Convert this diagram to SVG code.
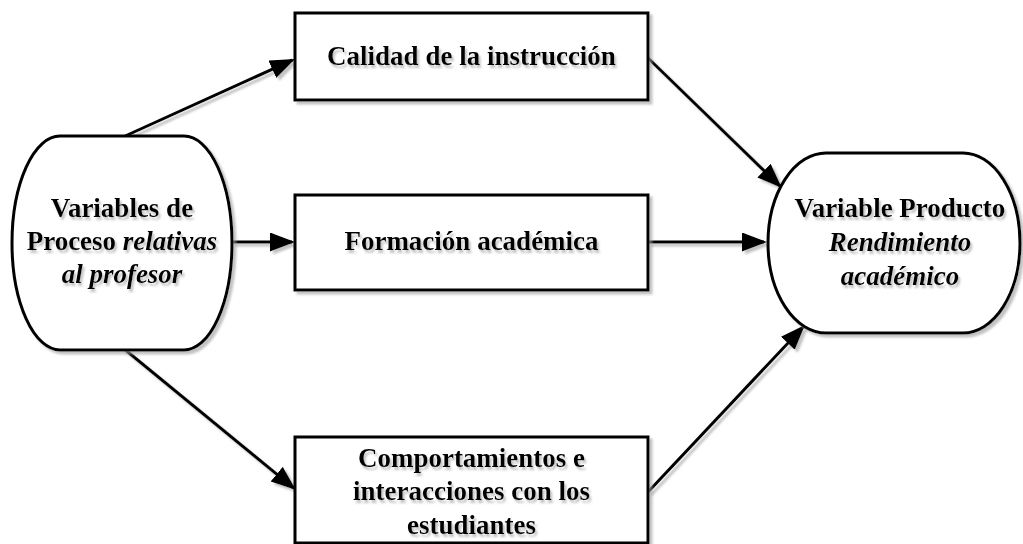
<svg xmlns="http://www.w3.org/2000/svg" width="1023" height="544" viewBox="0 0 1023 544">
<style>
.shape{fill:#fff;stroke:#000;stroke-width:3;filter:url(#sh)}
.t{font-family:"Liberation Serif","Times New Roman",serif;font-size:27px;font-weight:bold;text-anchor:middle;fill:#000;filter:url(#tsh)}
.i{font-style:italic}
.c{stroke:#000;stroke-width:3;fill:none;marker-end:url(#ah)}
</style>
<defs>
<filter id="sh" x="-10%" y="-10%" width="120%" height="120%">
<feDropShadow dx="3" dy="3" stdDeviation="1" flood-color="#999" flood-opacity="0.6"/>
</filter>
<filter id="tsh" x="-10%" y="-20%" width="120%" height="150%">
<feDropShadow dx="2" dy="3" stdDeviation="0.8" flood-color="#aaa" flood-opacity="0.7"/>
</filter>
<marker id="ah" markerUnits="userSpaceOnUse" markerWidth="26" markerHeight="20" refX="22" refY="9.5" orient="auto">
<path d="M0,0 L25,9.5 L0,19 Z" fill="#000"/>
</marker>
</defs>
<rect width="1023" height="544" fill="#fff"/>
<g id="connectors" filter="url(#sh)">
<line class="c" x1="123" y1="137" x2="292.3" y2="60.2"/>
<line class="c" x1="232" y1="242" x2="292" y2="242"/>
<line class="c" x1="123" y1="348" x2="293.7" y2="488.1"/>
<line class="c" x1="648" y1="58" x2="779.8" y2="185.9"/>
<line class="c" x1="648" y1="242" x2="764" y2="242"/>
<line class="c" x1="648" y1="492" x2="802.9" y2="327.2"/>
</g>
<g id="proceso">
<path class="shape" d="M60,136 H184 A48,107 0 0 1 184,350 H60 A48,107 0 0 1 60,136 Z"/>
<text class="t" x="122" y="217">Variables de</text>
<text class="t" x="122" y="250">Proceso <tspan class="i">relativas</tspan></text>
<text class="t i" x="122" y="283">al profesor</text>
</g>
<g id="calidad">
<rect class="shape" x="295" y="13" width="353" height="87"/>
<text class="t" x="471.5" y="65">Calidad de la instrucción</text>
</g>
<g id="formacion">
<rect class="shape" x="295" y="195" width="353" height="95"/>
<text class="t" x="471.5" y="250">Formación académica</text>
</g>
<g id="comportamientos">
<rect class="shape" x="295" y="437" width="353" height="106"/>
<text class="t" x="471.5" y="467">Comportamientos e</text>
<text class="t" x="471.5" y="500">interacciones con los</text>
<text class="t" x="471.5" y="534">estudiantes</text>
</g>
<g id="producto">
<path class="shape" d="M826,153 H963 A57,90 0 0 1 963,333 H826 A58,90 0 0 1 826,153 Z"/>
<text class="t" x="900" y="217">Variable Producto</text>
<text class="t i" x="900" y="251">Rendimiento</text>
<text class="t i" x="900" y="285">académico</text>
</g>
</svg>
